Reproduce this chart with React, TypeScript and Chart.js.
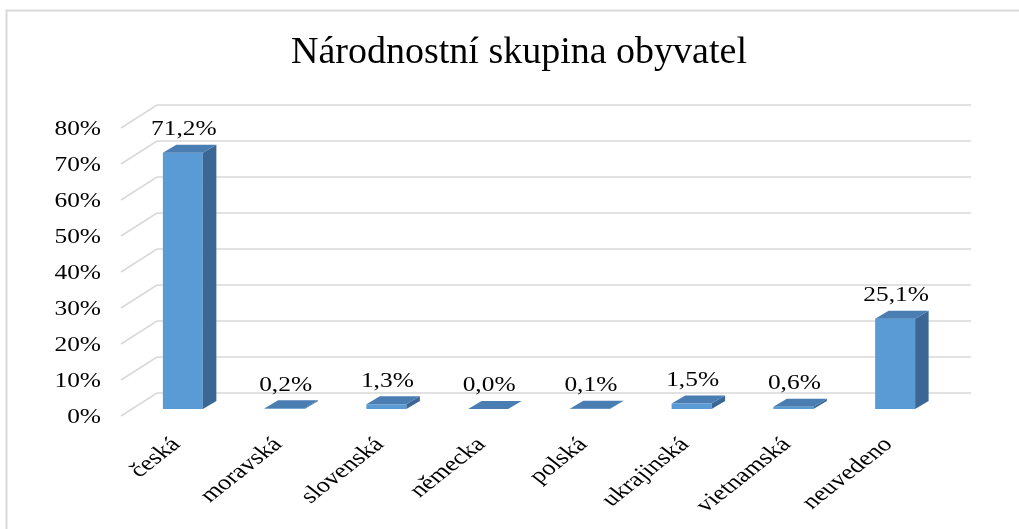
import React, { useEffect, useRef } from "react";
import { Chart, registerables } from "chart.js";

Chart.register(...registerables);

const categories = ["česká", "moravská", "slovenská", "německa", "polská", "ukrajinská", "vietnamská", "neuvedeno"];
const values = [71.2, 0.2, 1.3, 0.0, 0.1, 1.5, 0.6, 25.1];
const yMax = 80;
const yStep = 10;
const title = "Národnostní skupina obyvatel";

const FONT = '"Liberation Serif", "Times New Roman", serif';
const STRETCH = 1.27;
const GRID_DX = 36;
const GRID_DY = -23;
const FRONT_DX = 11;
const FRONT_DY = -7;
const BAR_DX = 13.5;
const BAR_DY = -8;
const COL_FRONT = "#5b9bd5";
const COL_TOP = "#4a7db1";
const COL_SIDE = "#3b6794";
const GRID_COL = "#d9d9d9";

function fmt(v: number) {
  return v.toFixed(1).replace(".", ",") + "%";
}

function sText(ctx: CanvasRenderingContext2D, text: string, x: number, y: number, align: CanvasTextAlign, baseline: CanvasTextBaseline, rot = 0) {
  ctx.save();
  ctx.translate(x, y);
  ctx.scale(STRETCH, 1);
  if (rot) ctx.rotate(rot);
  ctx.textAlign = align;
  ctx.textBaseline = baseline;
  ctx.fillText(text, 0, 0);
  ctx.restore();
}

const bars3d = {
  id: "bars3d",
  beforeDraw(chart: any) {
    const ctx = chart.ctx as CanvasRenderingContext2D;
    ctx.save();
    ctx.fillStyle = "#ffffff";
    ctx.fillRect(0, 0, chart.width, chart.height);
    ctx.strokeStyle = "#d9d9d9";
    ctx.lineWidth = 2;
    ctx.beginPath();
    ctx.moveTo(6.5, chart.height);
    ctx.lineTo(6.5, 10.5);
    ctx.lineTo(chart.width, 10.5);
    ctx.stroke();
    ctx.restore();
  },
  beforeDatasetsDraw(chart: any) {
    const ctx = chart.ctx as CanvasRenderingContext2D;
    const y = chart.scales.y;
    const x = chart.scales.x;
    const area = chart.chartArea;
    ctx.save();
    ctx.strokeStyle = GRID_COL;
    ctx.lineWidth = 1.6;
    y.ticks.forEach((t: any) => {
      const py = y.getPixelForValue(t.value);
      ctx.beginPath();
      ctx.moveTo(area.left, py);
      ctx.lineTo(area.left + GRID_DX, py + GRID_DY);
      ctx.lineTo(area.right + GRID_DX, py + GRID_DY);
      ctx.stroke();
    });
    ctx.fillStyle = "#000";
    ctx.font = `20px ${FONT}`;
    y.ticks.forEach((t: any) => {
      const py = y.getPixelForValue(t.value);
      sText(ctx, t.value + "%", area.left - 20, py + 2, "right", "middle");
    });
    ctx.font = `21px ${FONT}`;
    categories.forEach((c, i) => {
      const px = x.getPixelForTick(i) + FRONT_DX;
      sText(ctx, c, px - 16, 434, "right", "top", -Math.PI / 4);
    });
    ctx.restore();
  },
  afterDatasetsDraw(chart: any) {
    const ctx = chart.ctx as CanvasRenderingContext2D;
    const meta = chart.getDatasetMeta(0);
    ctx.save();
    meta.data.forEach((el: any, i: number) => {
      const w = el.width;
      const l = el.x - w / 2 + FRONT_DX;
      const r = el.x + w / 2 + FRONT_DX;
      const top = el.y + FRONT_DY;
      const bot = el.base + FRONT_DY;
      ctx.fillStyle = COL_FRONT;
      ctx.fillRect(l, top, r - l, bot - top);
      ctx.fillStyle = COL_SIDE;
      ctx.beginPath();
      ctx.moveTo(r, top);
      ctx.lineTo(r + BAR_DX, top + BAR_DY);
      ctx.lineTo(r + BAR_DX, bot + BAR_DY);
      ctx.lineTo(r, bot);
      ctx.closePath();
      ctx.fill();
      ctx.fillStyle = COL_TOP;
      ctx.beginPath();
      ctx.moveTo(l, top);
      ctx.lineTo(l + BAR_DX, top + BAR_DY);
      ctx.lineTo(r + BAR_DX, top + BAR_DY);
      ctx.lineTo(r, top);
      ctx.closePath();
      ctx.fill();
      ctx.fillStyle = "#000";
      ctx.font = `20px ${FONT}`;
      sText(ctx, fmt(values[i]), (l + r) / 2 + 1, top + BAR_DY - 5, "center", "bottom");
    });
    ctx.restore();
  },
};

export default function App() {
  const ref = useRef<HTMLCanvasElement | null>(null);
  useEffect(() => {
    if (!ref.current) return;
    const chart = new Chart(ref.current, {
      type: "bar",
      data: {
        labels: categories,
        datasets: [
          {
            data: values,
            backgroundColor: "rgba(0,0,0,0)",
            borderWidth: 0,
            barPercentage: 0.393,
            categoryPercentage: 1,
          },
        ],
      },
      options: {
        animation: false,
        responsive: true,
        maintainAspectRatio: false,
        layout: { padding: { left: 19, right: 0, top: 0, bottom: 0 } },
        plugins: {
          legend: { display: false },
          tooltip: { enabled: false },
          title: {
            display: true,
            text: title,
            color: "#000",
            font: { family: FONT, size: 38, weight: "normal", lineHeight: 1.2 },
            padding: { top: 30, bottom: 52.4 },
          },
        },
        scales: {
          x: {
            grid: { display: false },
            border: { display: false },
            ticks: { display: false },
            afterFit: (s: any) => {
              s.height = 113;
            },
          },
          y: {
            min: 0,
            max: yMax,
            ticks: { display: false, stepSize: yStep },
            grid: { display: false },
            border: { display: false },
            afterFit: (s: any) => {
              s.width = 102;
            },
          },
          yRight: {
            position: "right",
            display: true,
            grid: { display: false },
            border: { display: false },
            ticks: { display: false },
            afterFit: (s: any) => {
              s.width = 84;
            },
          },
        },
      },
      plugins: [bars3d],
    });
    return () => chart.destroy();
  }, []);
  return (
    <div style={{ position: "fixed", left: 0, top: 0, width: 1019, height: 529 }}>
      <canvas ref={ref} />
    </div>
  );
}
